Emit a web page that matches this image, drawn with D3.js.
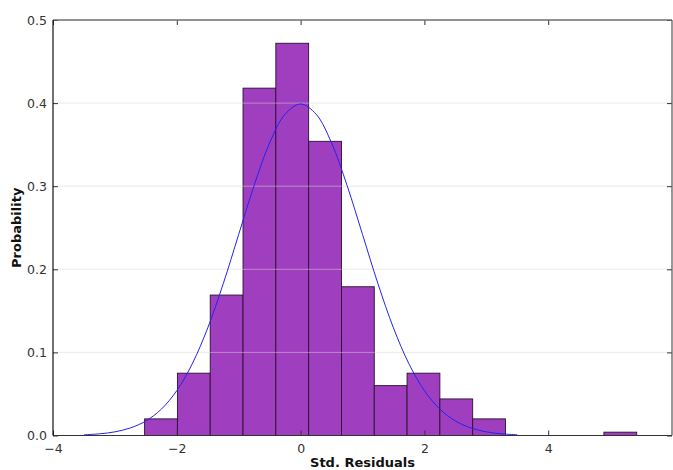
<!DOCTYPE html>
<html lang="en">
<head>
<meta charset="UTF-8">
<title>Std. Residuals</title>
<style>
  body { margin: 0; background: #fff; }
  text { font-family: "DejaVu Sans", sans-serif; }
</style>
</head>
<body>
<svg width="673" height="470"></svg>
<script src="https://d3js.org/d3.v7.min.js"></script>
<script>

// histogram bins (std. residuals) and their densities
var binEdges = [-2.52, -1.99, -1.46, -0.93, -0.40, 0.13, 0.66, 1.19, 1.72, 2.25, 2.78, 3.31, 3.84, 4.37, 4.90, 5.43];
var density  = [0.020, 0.075, 0.169, 0.418, 0.472, 0.354, 0.179, 0.060, 0.075, 0.044, 0.020, 0, 0, 0, 0.004];

// normal curve
var curveX = [-3.5, -3.25, -3, -2.75, -2.5, -2.25, -2, -1.75, -1.5, -1.25, -1, -0.75, -0.5, -0.25, 0,
              0.25, 0.5, 0.75, 1, 1.25, 1.5, 1.75, 2, 2.25, 2.5, 2.75, 3, 3.25, 3.5];
var curveY = [0.0009, 0.0020, 0.0044, 0.0091, 0.0175, 0.0317, 0.0540, 0.0863, 0.1295, 0.1826, 0.2420, 0.3011, 0.3521, 0.3867, 0.3989,
              0.3867, 0.3521, 0.3011, 0.2420, 0.1826, 0.1295, 0.0863, 0.0540, 0.0317, 0.0175, 0.0091, 0.0044, 0.0020, 0.0009];

var xTicks = [-4, -2, 0, 2, 4];
var yTicks = [0.0, 0.1, 0.2, 0.3, 0.4, 0.5];
var gridTicks = [0.1, 0.2, 0.3, 0.4];

var svg = d3.select("svg"),
    margin = {top: 20, right: 1, bottom: 34.5, left: 53};

var width = +svg.attr("width") - margin.left - margin.right;
var height = +svg.attr("height") - margin.top - margin.bottom;

var g = svg.append("g")
    .attr("transform", "translate(" + margin.left + "," + margin.top + ")");

var x = d3.scaleLinear().domain([-4, 6]).range([0, width]);
var y = d3.scaleLinear().domain([0, 0.5]).range([height, 0]);

var bins = density.map(function(d, i) {
    return {x0: binEdges[i], x1: binEdges[i + 1], v: d};
}).filter(function(d) { return d.v > 0; });

// bars
g.selectAll(".bar")
    .data(bins)
    .enter()
    .append("rect")
    .attr("class", "bar")
    .attr("x", function(d) { return x(d.x0); })
    .attr("width", function(d) { return x(d.x1) - x(d.x0); })
    .attr("y", function(d) { return y(d.v); })
    .attr("height", function(d) { return y(0) - y(d.v); })
    .attr("fill", "#9f3fbf")
    .attr("stroke", "#2a1030")
    .attr("stroke-width", 0.9);

// grid lines (drawn faintly on top of the bars)
g.selectAll(".grid")
    .data(gridTicks)
    .enter()
    .append("line")
    .attr("x1", 0)
    .attr("x2", width)
    .attr("y1", function(d) { return y(d); })
    .attr("y2", function(d) { return y(d); })
    .attr("stroke", "#d8d8d8")
    .attr("stroke-opacity", 0.5)
    .attr("stroke-width", 1);

// normal curve
var line = d3.line()
    .x(function(d) { return x(d[0]); })
    .y(function(d) { return y(d[1]); })
    .curve(d3.curveCatmullRom);

g.append("path")
    .datum(d3.zip(curveX, curveY))
    .attr("d", line)
    .attr("fill", "none")
    .attr("stroke", "#2323f0")
    .attr("stroke-width", 1);

// axes, ticks pointing inwards
function styleAxis(sel) {
    sel.select(".domain").remove();
    sel.selectAll("text")
        .attr("fill", "#333")
        .style("font-size", "12.5px");
    sel.selectAll("line").attr("stroke", "#333");
}

g.append("g")
    .attr("transform", "translate(0," + height + ")")
    .call(d3.axisBottom(x).tickValues(xTicks).tickSizeInner(-5).tickPadding(9)
        .tickFormat(d3.format("d")))
    .call(styleAxis);

g.append("g")
    .call(d3.axisTop(x).tickValues(xTicks).tickSizeInner(-5).tickFormat(""))
    .call(styleAxis);

g.append("g")
    .call(d3.axisLeft(y).tickValues(yTicks).tickSizeInner(-5).tickPadding(6)
        .tickFormat(d3.format(".1f")))
    .call(styleAxis);

g.append("g")
    .attr("transform", "translate(" + width + ",0)")
    .call(d3.axisRight(y).tickValues(yTicks).tickSizeInner(-5).tickFormat(""))
    .call(styleAxis);

// spines
g.append("line").attr("x1", 0).attr("x2", width).attr("y1", 0).attr("y2", 0)
    .attr("stroke", "#6e6e6e").attr("stroke-width", 1.5);
g.append("line").attr("x1", width).attr("x2", width).attr("y1", 0).attr("y2", height)
    .attr("stroke", "#555").attr("stroke-width", 1.2);
g.append("line").attr("x1", 0).attr("x2", width).attr("y1", height).attr("y2", height)
    .attr("stroke", "#333").attr("stroke-width", 1.2);
g.append("line").attr("x1", 0).attr("x2", 0).attr("y1", 0).attr("y2", height)
    .attr("stroke", "#111").attr("stroke-width", 1.2);

// axis labels
svg.append("text")
    .attr("x", margin.left + width / 2)
    .attr("y", 467)
    .attr("text-anchor", "middle")
    .style("font-size", "13px")
    .style("font-weight", "bold")
    .attr("fill", "#111")
    .text("Std. Residuals");

svg.append("text")
    .attr("transform", "translate(21," + (margin.top + height / 2) + ") rotate(-90)")
    .attr("text-anchor", "middle")
    .style("font-size", "13px")
    .style("font-weight", "bold")
    .attr("fill", "#111")
    .text("Probability");

</script>
</body>
</html>
